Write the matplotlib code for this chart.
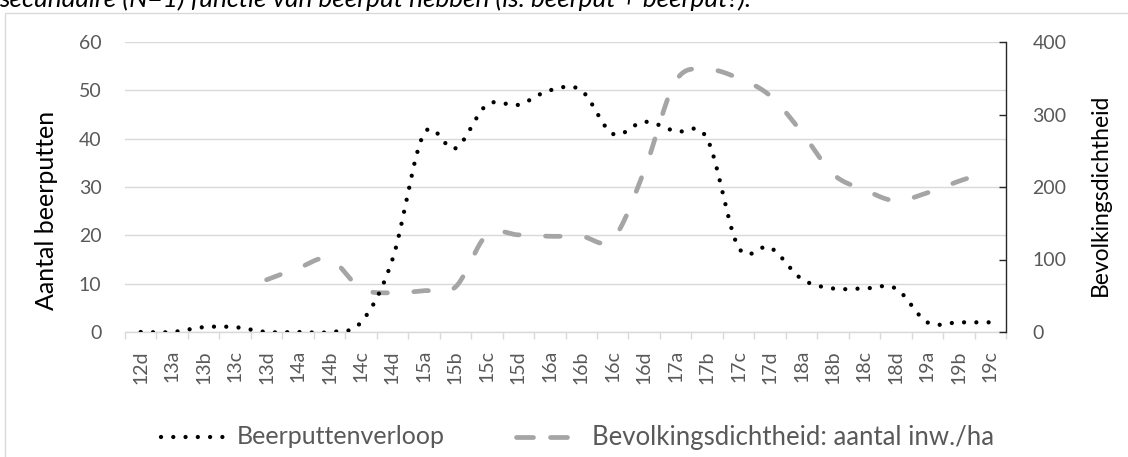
import numpy as np
import matplotlib
matplotlib.use("Agg")
import matplotlib.pyplot as plt
from matplotlib.lines import Line2D
from matplotlib.patches import Rectangle

# ---- data -------------------------------------------------------------
periods = ["12d", "13a", "13b", "13c", "13d", "14a", "14b", "14c", "14d",
           "15a", "15b", "15c", "15d", "16a", "16b", "16c", "16d",
           "17a", "17b", "17c", "17d", "18a", "18b", "18c", "18d",
           "19a", "19b", "19c"]

beerputten = [0, 0, 1, 1, 0, 0, 0, 2, 15,
              41, 38, 47, 47, 50, 50, 41, 43.5,
              41.5, 40, 17.5, 17.5, 11, 9, 9, 9,
              2, 2, 2]

dichtheid = [np.nan, np.nan, np.nan, np.nan, 72, 88, 101, 60, 54,
             57, 62, 134, 134, 132, 132, 128, 222,
             346, 362, 350, 326, 276, 218, 196, 181,
             192, 208, 222]

left_ticks = [0, 10, 20, 30, 40, 50, 60]
right_ticks = [0, 100, 200, 300, 400]

title_text = "secundaire (N=1) functie van beerput hebben (is. beerput + beerput?)."
left_label = "Aantal beerputten"
right_label = "Bevolkingsdichtheid"
legend_labels = ["Beerputtenverloop", "Bevolkingsdichtheid: aantal inw./ha"]

# ---- helpers ----------------------------------------------------------
def smooth_curve(xs, ys, steps=40):
    """Cubic Bezier smoothing through the points (spreadsheet style)."""
    xs = np.asarray(xs, float)
    ys = np.asarray(ys, float)
    ok = ~np.isnan(ys)
    xs, ys = xs[ok], ys[ok]
    pts = np.column_stack([xs, ys])
    n = len(pts)
    out = []
    for i in range(n - 1):
        p0 = pts[i - 1] if i > 0 else pts[i]
        p1 = pts[i]
        p2 = pts[i + 1]
        p3 = pts[i + 2] if i + 2 < n else pts[i + 1]
        c1 = p1 + (p2 - p0) / 6.0
        c2 = p2 - (p3 - p1) / 6.0
        t = np.linspace(0, 1, steps, endpoint=(i == n - 2))[:, None]
        seg = ((1 - t) ** 3) * p1 + 3 * ((1 - t) ** 2) * t * c1 \
            + 3 * (1 - t) * t ** 2 * c2 + t ** 3 * p2
        out.append(seg)
    out = np.vstack(out)
    return out[:, 0], out[:, 1]

# ---- figure -----------------------------------------------------------
W, H = 1128, 457
DPI = 100
plt.rcParams["font.family"] = ["Lato", "DejaVu Sans"]
fig = plt.figure(figsize=(W / DPI, H / DPI), dpi=DPI)

def fx(px):
    return px / W

def fy(py):
    return 1 - py / H

# chart frame
fig.patches.append(Rectangle((fx(5), fy(480)), fx(1200), fy(13) - fy(480),
                             transform=fig.transFigure, fill=False,
                             edgecolor="#D9D9D9", linewidth=1.0))

# caption line above the chart (its upper part lies outside the canvas)
fig.text(fx(-1), fy(7), title_text, fontsize=18.8, style="italic",
         color="#000000", ha="left", va="baseline")

ax = fig.add_axes([fx(125), fy(332), fx(1006) - fx(125), fy(42) - fy(332)])
ax2 = ax.twinx()

x = np.arange(len(periods))
ax.set_xlim(-0.5, len(periods) - 0.5)
ax.set_ylim(0, 60)
ax2.set_ylim(0, 400)

grid_c = "#D9D9D9"
text_c = "#595959"

ax.set_yticks(left_ticks)
ax.yaxis.grid(True, color=grid_c, linewidth=1.0)
ax.set_axisbelow(True)
for s in ["top", "left", "right"]:
    ax.spines[s].set_visible(False)
ax.spines["bottom"].set_color(grid_c)
ax.spines["bottom"].set_linewidth(1.0)

ax.tick_params(axis="y", length=0, pad=17, labelsize=14, labelcolor=text_c)
ax.set_xticks(x)
ax.set_xticklabels(periods, rotation=90, fontsize=14, color=text_c)
ax.tick_params(axis="x", which="major", length=0, pad=13)
ax.set_xticks(np.arange(-0.5, len(periods)), minor=True)
ax.tick_params(axis="x", which="minor", length=5, color=grid_c, width=1.0,
               direction="out")

for s in ["top", "left", "bottom"]:
    ax2.spines[s].set_visible(False)
ax2.spines["right"].set_color("#262626")
ax2.spines["right"].set_linewidth(1.0)
ax2.set_yticks(right_ticks)
ax2.tick_params(axis="y", direction="in", length=5, color="#262626",
                width=1.0, pad=19, labelsize=14, labelcolor=text_c)

dot_style = dict(color="#000000", linewidth=3.1,
                 linestyle=(0, (0.001, 2.85)),
                 dash_capstyle="round", solid_capstyle="round")
dash_style = dict(color="#A5A5A5", linewidth=3.4,
                  linestyle=(0, (3.1, 5.6)),
                  dash_capstyle="round", solid_capstyle="round")

sx, sy = smooth_curve(x, dichtheid)
ax2.plot(sx, sy, **dash_style)
bx, by = smooth_curve(x, beerputten)
ax2.plot(bx, np.asarray(by) * 400 / 60, **dot_style)

# axis titles
fig.text(fx(47), fy(210), left_label, rotation=90, fontsize=18,
         color="#000000", ha="center", va="center")
fig.text(fx(1100), fy(195), right_label, rotation=90, fontsize=16.5,
         color="#000000", ha="center", va="center")

# legend
ly = fy(437)
fig.add_artist(Line2D([fx(161), fx(226)], [ly, ly], transform=fig.transFigure,
                      **dot_style))
fig.text(fx(237), ly, legend_labels[0], fontsize=18, color=text_c,
         ha="left", va="center")
fig.add_artist(Line2D([fx(516), fx(578)], [ly, ly], transform=fig.transFigure,
                      color="#A5A5A5", linewidth=3.4,
                      linestyle=(0, (3.6, 3.6)),
                      dash_capstyle="round", solid_capstyle="round"))
fig.text(fx(592), ly, legend_labels[1], fontsize=18.5, color=text_c,
         ha="left", va="center")

fig.savefig("out.png", dpi=DPI)
